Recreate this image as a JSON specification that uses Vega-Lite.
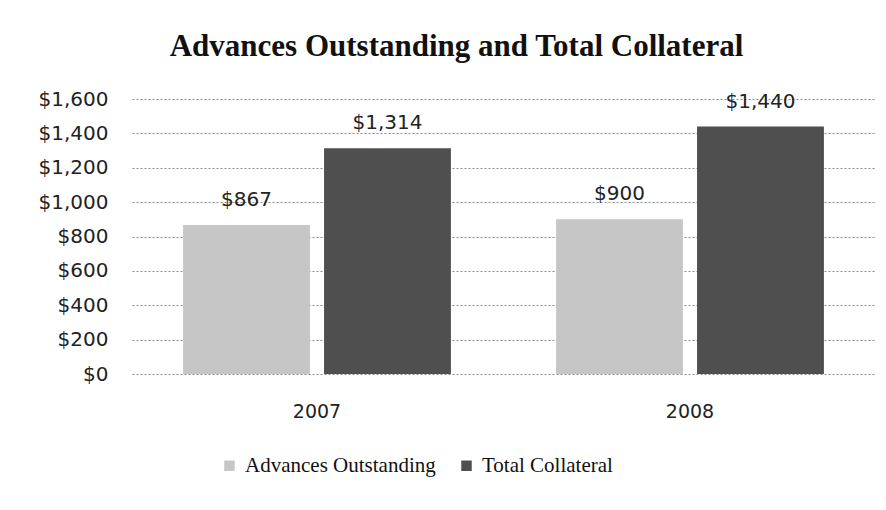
{
  "$schema": "https://vega.github.io/schema/vega-lite/v6.json",
  "width": 743,
  "height": 275,
  "autosize": "none",
  "padding": {"left": 132, "top": 99, "right": 11, "bottom": 136},
  "background": "white",
  "title": {
    "text": "Advances Outstanding and Total Collateral",
    "font": "Liberation Serif",
    "fontSize": 31,
    "fontWeight": "bold",
    "color": "#111111",
    "anchor": "middle",
    "dx": -47,
    "offset": 26
  },
  "data": {
    "values": [
      {"year": "2007", "series": "Advances Outstanding", "value": 867, "label": "$867"},
      {"year": "2007", "series": "Total Collateral", "value": 1314, "label": "$1,314"},
      {"year": "2008", "series": "Advances Outstanding", "value": 900, "label": "$900"},
      {"year": "2008", "series": "Total Collateral", "value": 1440, "label": "$1,440"}
    ]
  },
  "encoding": {
    "x": {
      "field": "year",
      "type": "nominal",
      "scale": {"paddingInner": 0.282, "paddingOuter": 0.137},
      "axis": {
        "title": null,
        "labelAngle": 0,
        "labelFont": "DejaVu Sans",
        "labelFontSize": 19,
        "labelColor": "#222222",
        "labelPadding": 28,
        "domain": false,
        "ticks": false,
        "grid": false
      }
    },
    "xOffset": {
      "field": "series",
      "type": "nominal",
      "sort": ["Advances Outstanding", "Total Collateral"],
      "scale": {"paddingInner": 0.1}
    },
    "y": {
      "field": "value",
      "type": "quantitative",
      "scale": {"domain": [0, 1600], "nice": false},
      "axis": {
        "title": null,
        "values": [0, 200, 400, 600, 800, 1000, 1200, 1400, 1600],
        "format": "$,.0f",
        "labelFont": "DejaVu Sans",
        "labelFontSize": 20,
        "labelColor": "#222222",
        "labelPadding": 24,
        "domain": false,
        "ticks": false,
        "grid": true,
        "gridColor": "#8a8a8a",
        "gridDash": [2, 2],
        "gridWidth": 1
      }
    }
  },
  "layer": [
    {
      "mark": {"type": "bar"},
      "encoding": {
        "color": {
          "field": "series",
          "type": "nominal",
          "sort": ["Advances Outstanding", "Total Collateral"],
          "scale": {"domain": ["Advances Outstanding", "Total Collateral"], "range": ["#c6c6c6", "#4f4f4f"]},
          "legend": {
            "title": null,
            "orient": "none",
            "legendX": 87,
            "legendY": 356,
            "direction": "horizontal",
            "symbolType": "square",
            "symbolSize": 110,
            "symbolStrokeWidth": 0,
            "labelFont": "Liberation Serif",
            "labelFontSize": 21,
            "labelColor": "#111111",
            "labelOffset": 5,
            "labelLimit": 0,
            "columnPadding": 20
          }
        }
      }
    },
    {
      "mark": {
        "type": "text",
        "baseline": "alphabetic",
        "dy": -19,
        "font": "DejaVu Sans",
        "fontSize": 20,
        "color": "#222222"
      },
      "encoding": {
        "text": {"field": "label"}
      }
    }
  ],
  "config": {
    "view": {"stroke": null}
  }
}
